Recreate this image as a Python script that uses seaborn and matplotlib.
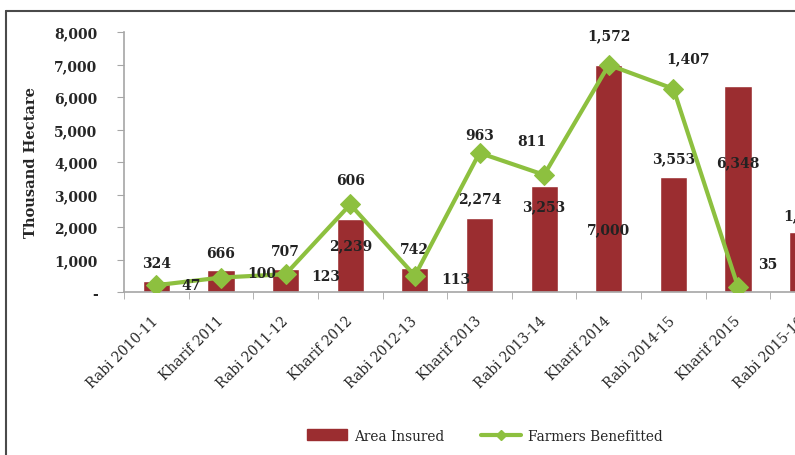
import numpy as np
import matplotlib
matplotlib.use("Agg")
import matplotlib.pyplot as plt
import seaborn as sns
from matplotlib.lines import Line2D
from matplotlib.patches import Patch
from matplotlib.ticker import FuncFormatter, FixedLocator

# ── Data ──────────────────────────────────────────────────────────────────────
seasons = ["Rabi 2010-11", "Kharif 2011", "Rabi 2011-12", "Kharif 2012",
           "Rabi 2012-13", "Kharif 2013", "Rabi 2013-14", "Kharif 2014",
           "Rabi 2014-15", "Kharif 2015", "Rabi 2015-16"]
area_insured = [324, 666, 707, 2239, 742, 2274, 3253, 7000, 3553, 6348, 1860]
farmers_benefitted = [47, 100, 123, 606, 113, 963, 811, 1572, 1407, 35]

# label offsets (pixels) as placed in the source chart
bar_lbl_off = [(0, 18), (0, 17), (0, 18), (0, -26), (0, 19), (0, 20),
               (0, -20), (0, -165), (0, 18), (0, -77), (2, 16)]
line_lbl_off = [(35, 0), (41, 5), (40, -2), (0, 24), (41, -3), (0, 18),
                (-12, 34), (0, 30), (15, 31), (30, 23)]

BAR_COLOR = "#9B2D30"
LINE_COLOR = "#8DC03F"

sns.set_style("white")
plt.rcParams["font.family"] = ["DejaVu Serif"]

fig = plt.figure(figsize=(7.95, 4.56), dpi=100)
ax = fig.add_axes([124 / 795, 163 / 456, 711 / 795, 260 / 456])

sns.barplot(x=seasons, y=area_insured, color=BAR_COLOR, width=0.42,
            saturation=1, ax=ax)
ax.set_xlim(-0.5, 10.5)
ax.set_ylim(0, 8000)

ax2 = ax.twinx()
sns.lineplot(x=np.arange(len(farmers_benefitted)), y=farmers_benefitted,
             color=LINE_COLOR, lw=3, marker="D", markersize=10,
             markeredgecolor=LINE_COLOR, ax=ax2)
ax2.set_ylim(0, 1800)
ax2.set_xlim(-0.5, 10.5)
ax2.axis("off")

# data labels
for i, v in enumerate(area_insured):
    dx, dy = bar_lbl_off[i]
    ax.annotate(f"{v:,}", (i, v), xytext=(dx, dy), textcoords="offset pixels",
                ha="center", va="center", fontsize=10, fontweight="bold",
                color="#222222", annotation_clip=False)
for i, v in enumerate(farmers_benefitted):
    dx, dy = line_lbl_off[i]
    ax2.annotate(f"{v:,}", (i, v), xytext=(dx, dy), textcoords="offset pixels",
                 ha="center", va="center", fontsize=10, fontweight="bold",
                 color="#222222", annotation_clip=False)

# axes styling
for s in ["top", "right"]:
    ax.spines[s].set_visible(False)
for s in ["left", "bottom"]:
    ax.spines[s].set_color("#A6A6A6")
    ax.spines[s].set_linewidth(1.2)

ax.set_yticks(np.arange(0, 8001, 1000))
ax.yaxis.set_major_formatter(FuncFormatter(lambda v, p: "-" if v == 0 else f"{v:,.0f}"))
ax.tick_params(axis="y", which="major", left=True, length=5, color="#A6A6A6",
               pad=14, labelsize=10)
for t in ax.get_yticklabels():
    t.set_fontweight("bold")
ax.set_ylabel("Thousand Hectare", fontsize=10.5, fontweight="bold", labelpad=12)
ax.set_xlabel("")

ax.xaxis.set_minor_locator(FixedLocator(np.arange(-0.5, 11, 1)))
ax.tick_params(axis="x", which="major", length=0, pad=19, labelsize=10)
ax.tick_params(axis="x", which="minor", bottom=True, length=5, color="#A6A6A6")
ax.set_xticks(range(len(seasons)))
ax.set_xticklabels(seasons, rotation=45, ha="right", va="center",
                   rotation_mode="anchor")

# legend
handles = [Patch(facecolor=BAR_COLOR, edgecolor=BAR_COLOR, label="Area Insured"),
           Line2D([0], [0], color=LINE_COLOR, lw=3, marker="D", markersize=5,
                  label="Farmers Benefitted")]
fig.legend(handles=handles, loc="center", bbox_to_anchor=(485 / 795, 1 - 437 / 456),
           ncol=2, frameon=False, handlelength=2.6, columnspacing=2.4,
           handletextpad=0.5,
           prop={"family": "DejaVu Serif", "stretch": "condensed", "size": 11})

# outer frame (screenshot border)
fig.add_artist(Line2D([6 / 795, 6 / 795], [0, 1 - 12 / 456], color="#4A4A4A", lw=1.5,
                      transform=fig.transFigure))
fig.add_artist(Line2D([6 / 795, 1], [1 - 12 / 456, 1 - 12 / 456], color="#4A4A4A", lw=1.5,
                      transform=fig.transFigure))

fig.savefig("out.png", dpi=100)
